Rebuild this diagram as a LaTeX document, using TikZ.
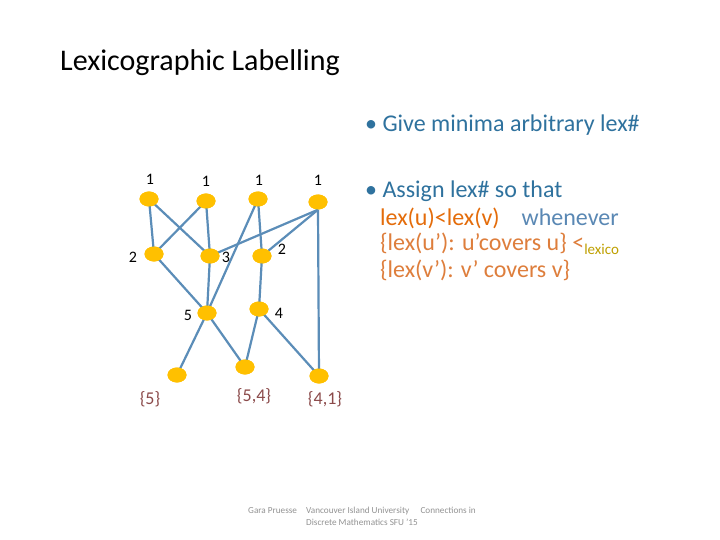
\documentclass[tikz,border=0pt]{standalone}
\usepackage{fontspec}
\setmainfont{Carlito}
\usetikzlibrary{shapes.geometric}
\definecolor{nodegold}{HTML}{FFC000}
\definecolor{edgeblue}{HTML}{5B8DB8}
\definecolor{txtblue}{HTML}{2F729E}
\definecolor{txtorange}{HTML}{E46C0A}
\definecolor{txtorange2}{HTML}{DE7E3C}
\definecolor{txtgreyblue}{HTML}{5A88B4}
\definecolor{txtolive}{HTML}{BFA000}
\definecolor{setred}{HTML}{8B4A4A}
\begin{document}
\begin{tikzpicture}[x=1pt,y=-1pt,
  vtx/.style={ellipse,fill=nodegold,minimum width=19pt,minimum height=15pt,inner sep=0pt},
  lnk/.style={draw=edgeblue,line width=2.2pt},
  lbl/.style={font=\fontsize{16}{18}\selectfont,inner sep=0pt},
  setlbl/.style={font=\fontsize{18}{20}\selectfont,text=setred,inner sep=0pt},
  bul/.style={anchor=west,inner sep=0pt,font=\fontsize{24}{28}\selectfont},
  foot/.style={font=\fontsize{9.2}{11}\selectfont,text=gray!85,inner sep=0pt,anchor=west}]
\useasboundingbox (0,0) rectangle (720,540);
\fill[white] (0,0) rectangle (720,540);
% title
\node[anchor=west,inner sep=0pt,font=\fontsize{30}{34}\selectfont] (title) at (60,63) {Lexicographic Labelling};
% bullets
\node[bul,text=txtblue] (b1) at (365,125) {\textbullet\ Give minima arbitrary lex\#};
\node[bul,text=txtblue] (b2) at (365,191) {\textbullet\ Assign lex\# so that};
\node[bul] (b3) at (380,218) {\textcolor{txtorange}{lex(u)<lex(v)}\hspace{22pt}\textcolor{txtgreyblue}{whenever}};
\node[bul] (b4) at (380,244) {\textcolor{txtorange2}{\{lex(u’): u’covers u\} <}\textcolor{txtolive}{\raisebox{-4pt}{\fontsize{15}{16}\selectfont lexico}}};
\node[bul,text=txtorange2] (b5) at (380,270) {\{lex(v’): v’ covers v\}};
% vertices
\node[vtx] (a1) at (149,199) {};
\node[vtx] (a2) at (206,201) {};
\node[vtx] (a3) at (258,199) {};
\node[vtx] (a4) at (318,202) {};
\node[vtx] (m1) at (154,254) {};
\node[vtx] (m2) at (210,256) {};
\node[vtx] (m3) at (262,256) {};
\node[vtx] (c1) at (207,313) {};
\node[vtx] (c2) at (259,309) {};
\node[vtx] (d1) at (177,375) {};
\node[vtx] (d2) at (245,367) {};
\node[vtx] (d3) at (319,376) {};
% edges
\draw[lnk] (a1.center) -- (m1.center);
\draw[lnk] (a1.center) -- (m2.center);
\draw[lnk] (a2.center) -- (m1.center);
\draw[lnk] (a2.center) -- (m2.center);
\draw[lnk] (a3.center) -- (c1.center);
\draw[lnk] (a3.center) -- (m3.center);
\draw[lnk] (a4.south) -- (m2.center);
\draw[lnk] (a4.south) -- (m3.center);
\draw[lnk] (a4.south) -- (d3.center);
\draw[lnk] (m1.center) -- (c1.center);
\draw[lnk] (m2.center) -- (c1.center);
\draw[lnk] (m3.center) -- (c2.center);
\draw[lnk] (c1.center) -- (d1.center);
\draw[lnk] (c1.center) -- (d2.center);
\draw[lnk] (c2.center) -- (d2.center);
\draw[lnk] (c2.center) -- (d3.center);
% redraw vertices on top
\foreach \n in {a1,a2,a3,a4,m1,m2,m3,c1,c2,d1,d2,d3}{
  \fill[nodegold] (\n.center) ellipse (9.5pt and 7.5pt);
}
% labels
\node[lbl] (la1) at (150,179) {1};
\node[lbl] (la2) at (206,181) {1};
\node[lbl] (la3) at (259,180) {1};
\node[lbl] (la4) at (318,180) {1};
\node[lbl] (lm1) at (133,257) {2};
\node[lbl] (lm2) at (226,257) {3};
\node[lbl] (lm3) at (282,249) {2};
\node[lbl] (lc1) at (188,315) {5};
\node[lbl] (lc2) at (279,313) {4};
\node[setlbl] (ld1) at (150,399) {\{5\}};
\node[setlbl] (ld2) at (254,396) {\{5,4\}};
\node[setlbl] (ld3) at (325,399) {\{4,1\}};
% footer
\node[foot] (f1) at (248,511) {Gara Pruesse};
\node[foot] (f2) at (306,511) {Vancouver Island University\quad\ Connections in};
\node[foot] (f3) at (306,522) {Discrete Mathematics SFU ’15};
\end{tikzpicture}
\end{document}
